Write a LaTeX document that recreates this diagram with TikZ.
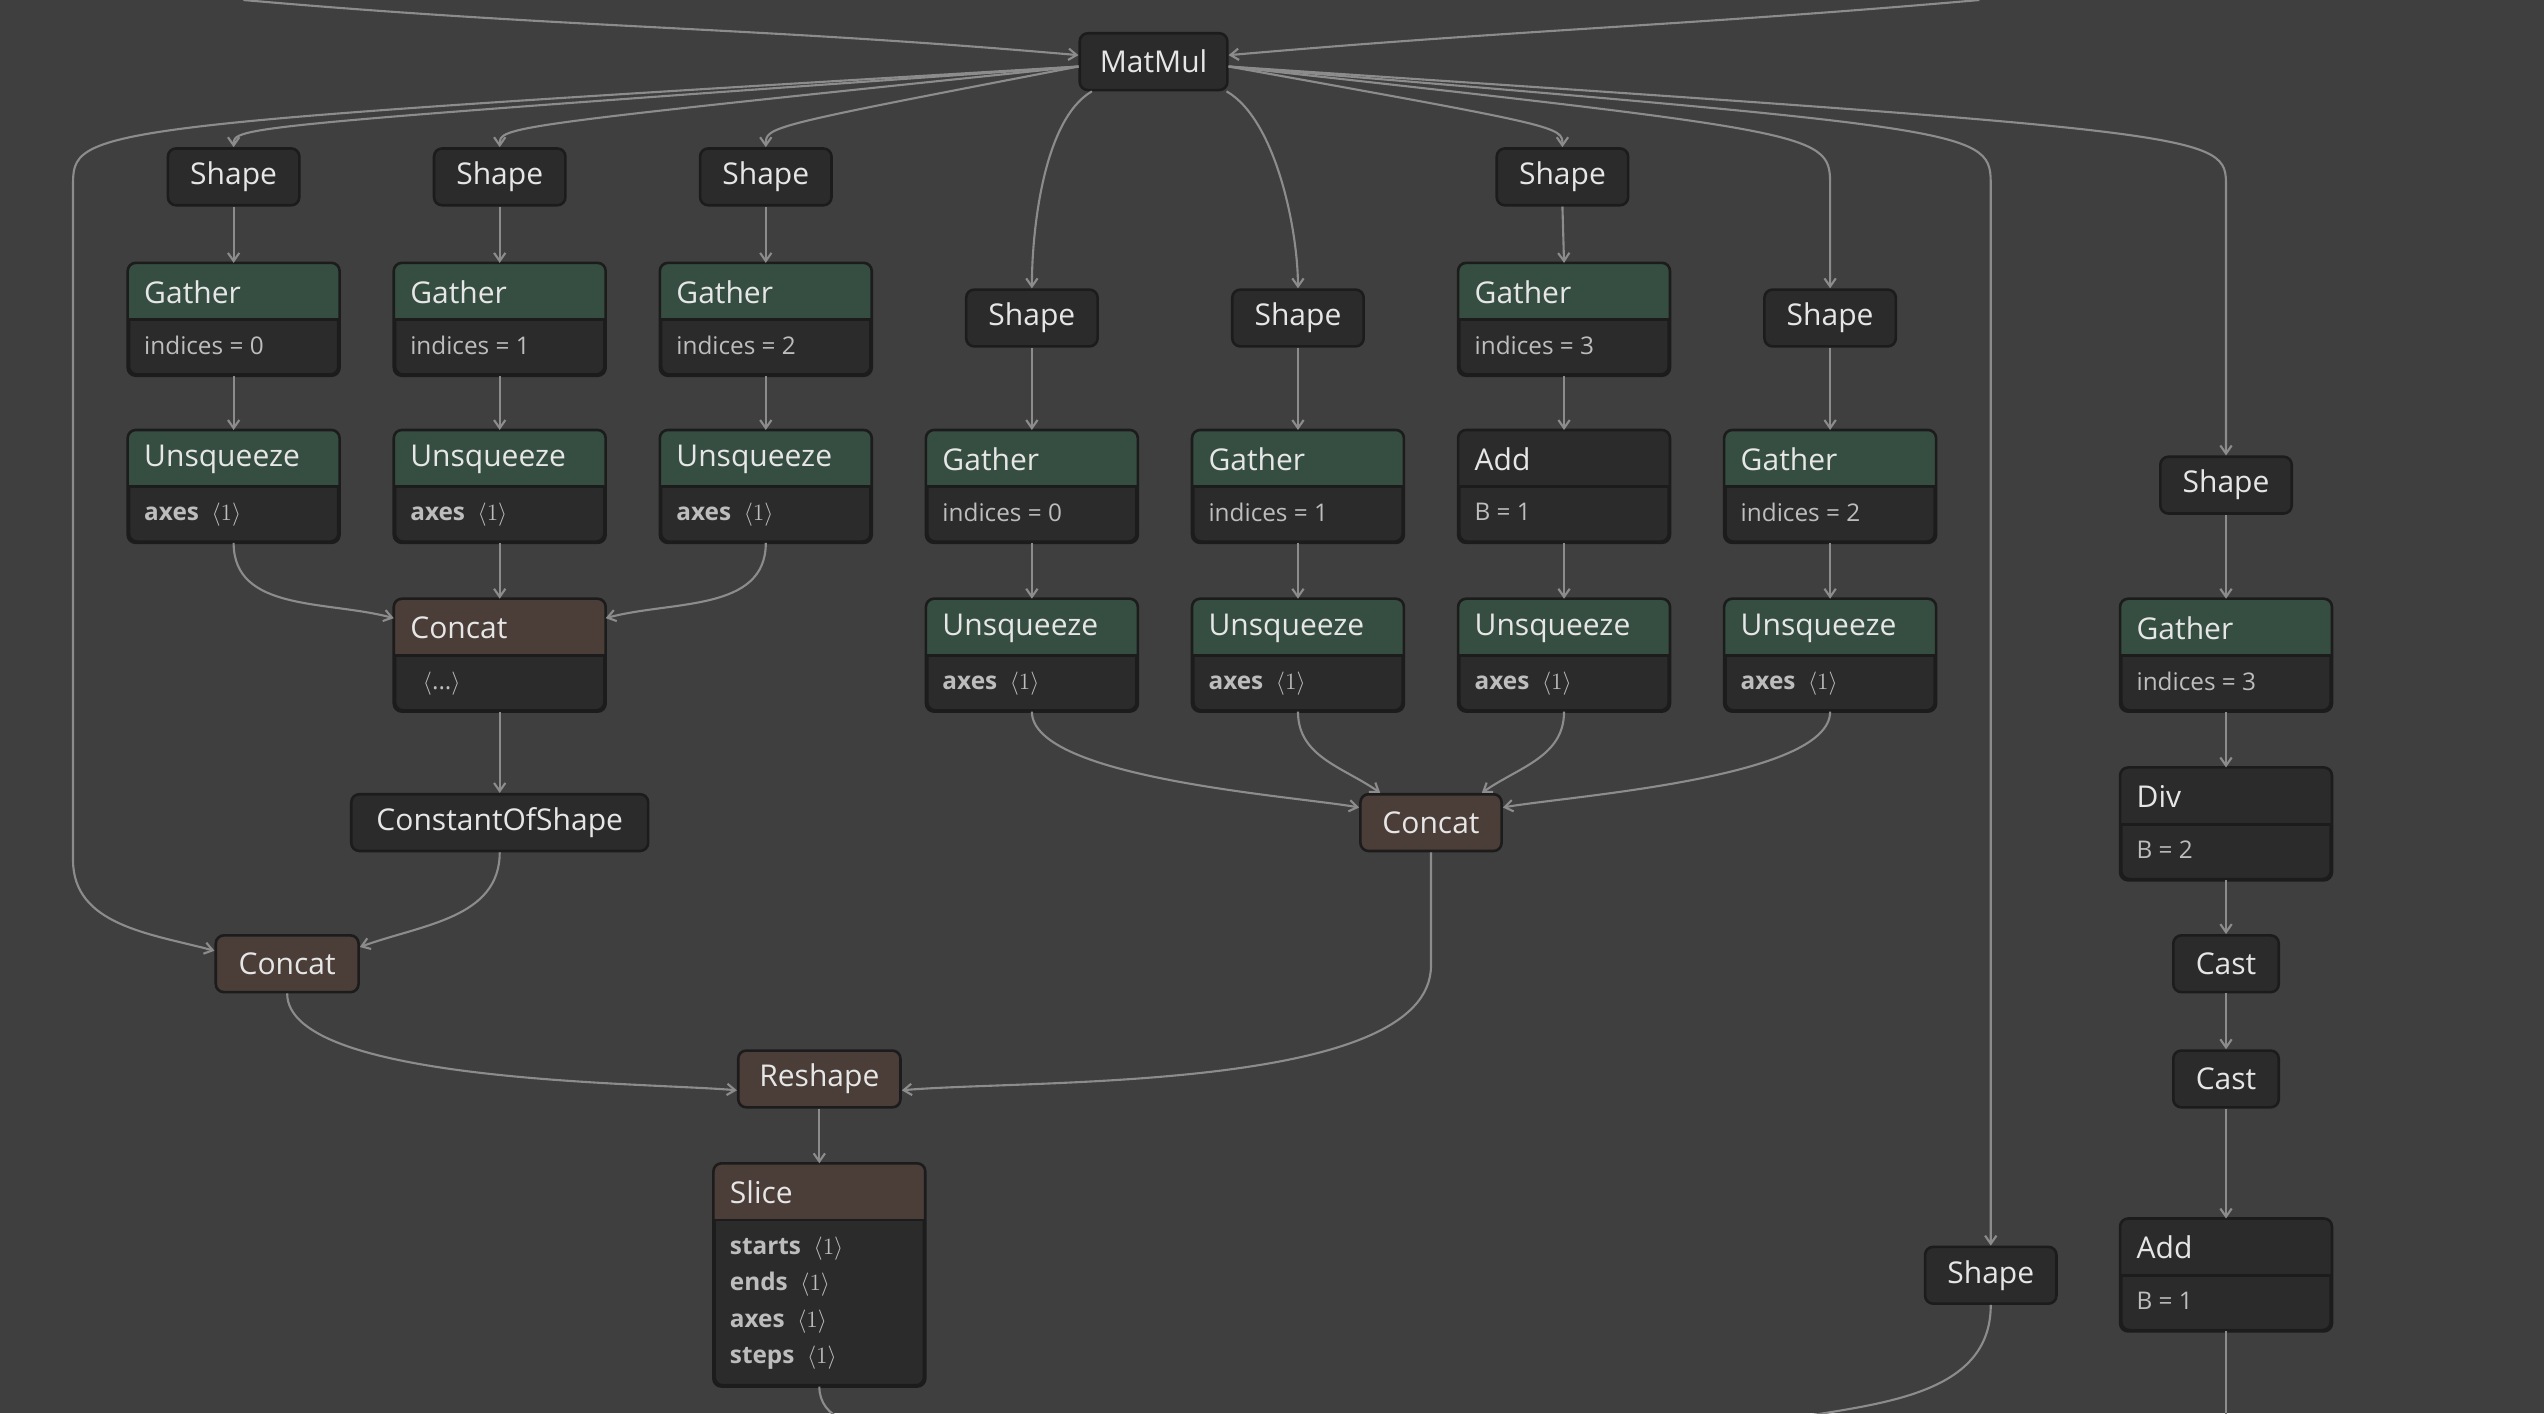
\documentclass[tikz,border=0pt]{standalone}
\usepackage{fontspec}
\setmainfont{Open Sans}
\usetikzlibrary{arrows.meta}
\definecolor{bg}{HTML}{3F3F3F}
\definecolor{nodef}{HTML}{2B2B2B}
\definecolor{nodeb}{HTML}{1C1C1C}
\definecolor{greenh}{HTML}{354E41}
\definecolor{brownh}{HTML}{4B3D38}
\definecolor{txt}{HTML}{E6E6E6}
\definecolor{subtxt}{HTML}{BDBDBD}
\definecolor{edge}{HTML}{8C8C8C}
\tikzset{
 opb/.style={draw=nodeb,line width=1.6pt,fill=nodef,rounded corners=5pt,minimum width=129pt,inner sep=0pt},
 sbox/.style={draw=nodeb,line width=1.6pt,fill=nodef,rounded corners=5pt,minimum height=35pt,inner sep=0pt,text=txt,font=\fontsize{18.5}{20}\selectfont},
 ttl/.style={text=txt,font=\fontsize{18.5}{20}\selectfont,inner sep=0pt},
 bdt/.style={text=subtxt,font=\fontsize{15}{22.5}\selectfont,inner sep=0pt},
 conn/.style={draw=edge,line width=1.3pt,-{Straight Barb[length=5pt,width=7pt]}},
 lin/.style={draw=edge,line width=1.3pt},
}
\newcommand\opbox[7]{%
 \node[opb,minimum height=#4pt,anchor=north] (#1) at (#2,-#3) {};
 \begin{scope}\clip[rounded corners=5pt] (#1.north west) rectangle (#1.south east);
 \fill[#5] (#1.north west) rectangle ([yshift=-35pt]#1.north east);\end{scope}
 \draw[nodeb,line width=1.6pt] ([yshift=-35pt]#1.north west) -- ([yshift=-35pt]#1.north east);
 \draw[nodeb,line width=1.6pt,rounded corners=5pt] (#1.north west) rectangle (#1.south east);
 \node[ttl,anchor=west] at ([xshift=10pt,yshift=-18pt]#1.north west) {#6};
 \node[bdt,anchor=north west,align=left] at ([xshift=10pt,yshift=-45pt]#1.north west) {#7};}
\newcommand\ax[1]{\textbf{#1}\ \ $\langle 1\rangle$}
\begin{document}
\begin{tikzpicture}[x=1pt,y=1pt]
\fill[bg] (0,0) rectangle (1568,-871);
\useasboundingbox (0,0) rectangle (1568,-871);
\node[sbox,minimum width=91pt] (mm) at (711,-38) {MatMul};
\coordinate (tl) at (150,0); \coordinate (tr) at (1220,0);
\foreach \n/\x/\y in {s1/144/109,s2/308/109,s3/472/109,s4/963/109,s5/636/196,s6/800/196,s7/1128/196,s8/1372/299,s9/1227/786}
 \node[sbox,minimum width=81pt] (\n) at (\x,-\y) {Shape};
\opbox{g1}{144}{162}{68}{greenh}{Gather}{indices = 0}
\opbox{g2}{308}{162}{68}{greenh}{Gather}{indices = 1}
\opbox{g3}{472}{162}{68}{greenh}{Gather}{indices = 2}
\opbox{g4}{964}{162}{68}{greenh}{Gather}{indices = 3}
\opbox{u1}{144}{265}{68}{greenh}{Unsqueeze}{\ax{axes}}
\opbox{u2}{308}{265}{68}{greenh}{Unsqueeze}{\ax{axes}}
\opbox{u3}{472}{265}{68}{greenh}{Unsqueeze}{\ax{axes}}
\opbox{g5}{636}{265}{68}{greenh}{Gather}{indices = 0}
\opbox{g6}{800}{265}{68}{greenh}{Gather}{indices = 1}
\opbox{a1}{964}{265}{68}{nodef}{Add}{B = 1}
\opbox{g7}{1128}{265}{68}{greenh}{Gather}{indices = 2}
\opbox{u4}{636}{369}{68}{greenh}{Unsqueeze}{\ax{axes}}
\opbox{u5}{800}{369}{68}{greenh}{Unsqueeze}{\ax{axes}}
\opbox{u6}{964}{369}{68}{greenh}{Unsqueeze}{\ax{axes}}
\opbox{u7}{1128}{369}{68}{greenh}{Unsqueeze}{\ax{axes}}
\opbox{c1}{308}{369}{68}{brownh}{Concat}{\ \ $\langle$...$\rangle$}
\opbox{g8}{1372}{369}{68}{greenh}{Gather}{indices = 3}
\opbox{dv}{1372}{473}{68}{nodef}{Div}{B = 2}
\opbox{a2}{1372}{751}{68}{nodef}{Add}{B = 1}
\opbox{sl}{505}{717}{136}{brownh}{Slice}{\ax{starts}\\\ax{ends}\\\ax{axes}\\\ax{steps}}
\node[sbox,minimum width=183pt] (cs) at (308,-507) {ConstantOfShape};
\node[sbox,minimum width=88pt,fill=brownh] (c2) at (177,-594) {Concat};
\node[sbox,minimum width=87pt,fill=brownh] (c3) at (882,-507) {Concat};
\node[sbox,minimum width=100pt,fill=brownh] (rs) at (505,-665) {Reshape};
\node[sbox,minimum width=65pt] (ca1) at (1372,-594) {Cast};
\node[sbox,minimum width=65pt] (ca2) at (1372,-665) {Cast};
% edges
\draw[conn] (tl) to[out=-5,in=175] ([yshift=4pt]mm.west);
\draw[conn] (tr) to[out=185,in=5] ([yshift=4pt]mm.east);
\foreach \n/\x in {s1/144,s2/308,s3/472} \draw[conn] ([yshift=-3pt]mm.west) .. controls (\x,-78) .. (s1.north -| \x,0);
\draw[conn] ([yshift=-3pt]mm.east) .. controls (963,-78) .. (s4.north);
\draw[conn] ([xshift=-38pt]mm.south) to[out=-150,in=90,looseness=0.7] (s5.north);
\draw[conn] ([xshift=45pt]mm.south) to[out=-30,in=90,looseness=0.7] (s6.north);
\draw[conn] ([yshift=-3pt]mm.east) .. controls (1128,-82) .. (1128,-115) -- (s7.north);
\draw[conn] ([yshift=-3pt]mm.east) .. controls (1372,-82) .. (1372,-115) -- (s8.north);
\draw[conn] ([yshift=-3pt]mm.east) .. controls (1227,-80) .. (1227,-115) -- (s9.north);
\draw[conn] ([yshift=-3pt]mm.west) .. controls (45,-78) .. (45,-115) -- (45,-530) to[out=-90,in=165] ([yshift=8pt]c2.west);
\foreach \a/\b in {s1/g1,s2/g2,s3/g3,s4/g4,g1/u1,g2/u2,g3/u3,s5/g5,s6/g6,s7/g7,g4/a1,g5/u4,g6/u5,a1/u6,g7/u7,s8/g8,g8/dv,dv/ca1,ca1/ca2,ca2/a2,u2/c1,c1/cs,rs/sl}
 \draw[conn] (\a.south) -- (\b.north);
\draw[conn] (u1.south) to[out=-90,in=165] ([yshift=-12pt]c1.north west);
\draw[conn] (u3.south) to[out=-90,in=15] ([yshift=-12pt]c1.north east);
\draw[conn] (cs.south) to[out=-90,in=20] ([yshift=-8pt]c2.north east);
\draw[conn] (c2.south) to[out=-90,in=175,looseness=0.5] ([yshift=-7pt]rs.west);
\draw[conn] (c3.south) -- (882,-595) to[out=-90,in=5,looseness=0.6] ([yshift=-7pt]rs.east);
\draw[conn] (u4.south) to[out=-90,in=170,looseness=0.5] ([yshift=-9pt]c3.north west);
\draw[conn] (u5.south) to[out=-90,in=145] ([xshift=13pt]c3.north west);
\draw[conn] (u6.south) to[out=-90,in=35] ([xshift=-13pt]c3.north east);
\draw[conn] (u7.south) to[out=-90,in=10,looseness=0.5] ([yshift=-9pt]c3.north east);
\coordinate (e1) at (520,-875); \coordinate (e2) at (1100,-875); \coordinate (e3) at (1372,-875);
\draw[lin] (sl.south) to[out=-90,in=160] (e1);
\draw[lin] (s9.south) to[out=-90,in=10] (e2);
\draw[lin] (a2.south) -- (e3);
\end{tikzpicture}
\end{document}
